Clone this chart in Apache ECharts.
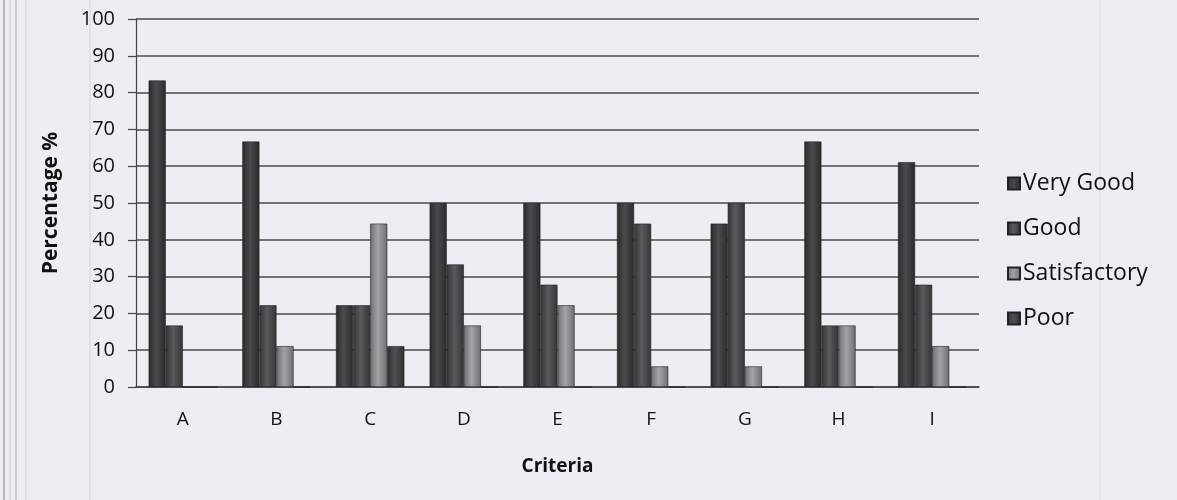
<!DOCTYPE html>
<html>
<head>
<meta charset="utf-8">
<script src="https://cdn.jsdelivr.net/npm/echarts@6/dist/echarts.min.js"></script>
<style>
  html, body { margin: 0; padding: 0; background: #eeedf3; }
  #main { width: 1177px; height: 500px; }
</style>
</head>
<body>
<div id="main"></div>
<script>
const criteria = ['A', 'B', 'C', 'D', 'E', 'F', 'G', 'H', 'I']
const veryGood = [83.3, 66.7, 22.2, 50, 50, 50, 44.4, 66.7, 61.1]
const good = [16.7, 22.2, 22.2, 33.3, 27.8, 44.4, 50, 16.7, 27.8]
const satisfactory = [0, 11.1, 44.4, 16.7, 22.2, 5.6, 5.6, 16.7, 11.1]
const poor = [0, 0, 11.1, 0, 0, 0, 0, 0, 0]

const font = '"Open Sans", "Liberation Sans", sans-serif'

function shade (dark, light) {
  return new echarts.graphic.LinearGradient(0, 0, 1, 0, [
    {offset: 0, color: dark},
    {offset: 0.45, color: light},
    {offset: 1, color: dark}
  ])
}

function barSeries (name, data, dark, light) {
  return {
    name: name,
    type: 'bar',
    barGap: '0%',
    barCategoryGap: '27%',
    data: data,
    itemStyle: {color: shade(dark, light), borderColor: '#222', borderWidth: 0.6}
  }
}

// faint scan edges of the page
function edge (x, color, width) {
  return {type: 'line', shape: {x1: x, y1: 0, x2: x, y2: 500}, style: {stroke: color, lineWidth: width}, silent: true}
}

let chart = echarts.init(document.getElementById('main'))
let option = {
  backgroundColor: '#eeedf3',
  animation: false,
  textStyle: {fontFamily: font},
  graphic: [
    edge(4, '#b8b7bf', 2),
    edge(10, '#c8c7cf', 1),
    edge(16, '#bdbcc4', 1.5),
    edge(26, '#d0cfd7', 1),
    edge(90, '#d6d5dd', 1),
    edge(1100, '#d8d7df', 1)
  ],
  grid: {left: 136, top: 19, right: 198, bottom: 113},
  legend: {
    orient: 'vertical',
    left: 1002,
    top: 167,
    itemGap: 22,
    itemWidth: 12,
    itemHeight: 12,
    icon: 'rect',
    textStyle: {fontSize: 23, color: '#111', fontFamily: font, padding: [0, 0, 0, -2]},
    data: ['Very Good', 'Good', 'Satisfactory', 'Poor']
  },
  xAxis: {
    type: 'category',
    data: criteria,
    name: 'Criteria',
    nameLocation: 'middle',
    nameGap: 70,
    nameTextStyle: {fontSize: 19, fontWeight: 'bold', color: '#111'},
    axisLine: {lineStyle: {color: '#444', width: 1.5}},
    axisTick: {show: false},
    axisLabel: {fontSize: 19, color: '#111', margin: 23}
  },
  yAxis: {
    type: 'value',
    min: 0,
    max: 100,
    interval: 10,
    name: 'Percentage %',
    nameLocation: 'middle',
    nameGap: 74,
    nameTextStyle: {fontSize: 21, fontWeight: 'bold', color: '#111'},
    axisLine: {show: true, lineStyle: {color: '#444', width: 1.2}},
    axisTick: {show: true, length: 8, lineStyle: {color: '#444', width: 1.2}},
    axisLabel: {fontSize: 20, color: '#111', margin: 21},
    splitLine: {lineStyle: {color: '#4a4a4a', width: 1.5}}
  },
  series: [
    barSeries('Very Good', veryGood, '#2a2a2c', '#4c4c50'),
    barSeries('Good', good, '#353537', '#5a5a5e'),
    barSeries('Satisfactory', satisfactory, '#6e6e72', '#a4a4a8'),
    barSeries('Poor', poor, '#2e2e30', '#505054')
  ]
}
chart.setOption(option)
</script>
</body>
</html>
